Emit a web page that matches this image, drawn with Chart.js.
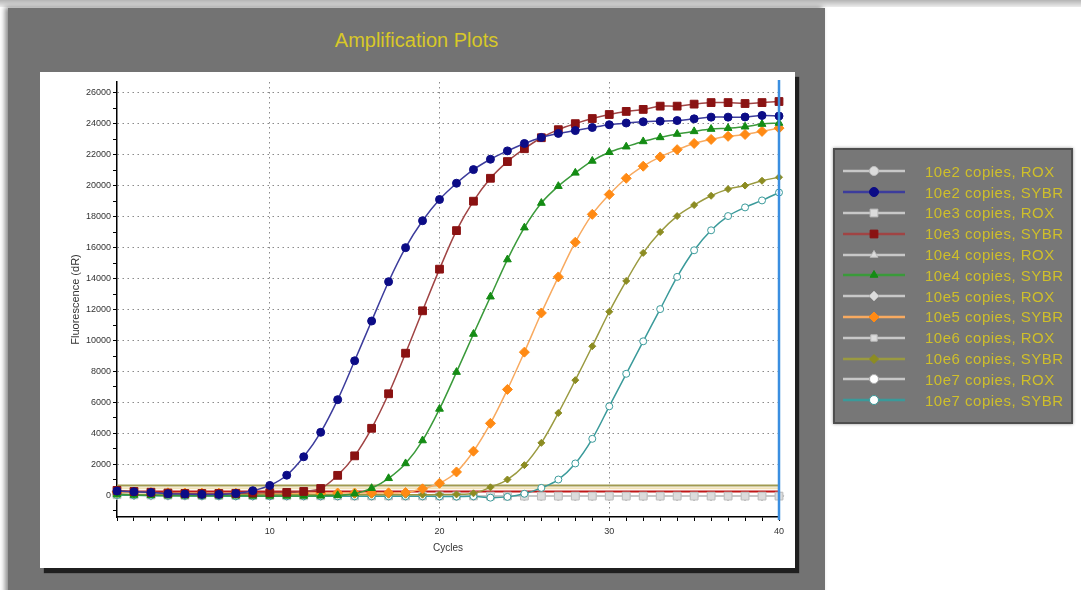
<!DOCTYPE html>
<html lang="en">
<head>
<meta charset="UTF-8">
<title>Amplification Plots</title>
<script src="https://cdn.jsdelivr.net/npm/chart.js"></script>
<style>
  body { margin: 0; width: 1081px; height: 590px; overflow: hidden; background: #fff; position: relative;
         font-family: Arial, "Liberation Sans", sans-serif; }
  .topband { position: absolute; left: 0; top: 0; width: 1081px; height: 7px; background: linear-gradient(#b4b4b4, #ececec); }
  .panel { position: absolute; left: 8px; top: 8px; width: 817px; height: 600px; background: #737373;
           box-shadow: -3px -1px 5px rgba(0,0,0,0.45); }
  .title { position: absolute; left: 0; width: 100%; top: 21px; text-align: center; color: #d8c828; font-size: 20px; }
  .plot { position: absolute; left: 32px; top: 64px; width: 755px; height: 496px; background: #fff;
          box-shadow: 4px 5px 1px #1f1f1f; }
  .legend { position: absolute; left: 833px; top: 148px; width: 240px; height: 276px; box-sizing: border-box;
            background: #777; border: 2px solid #4e4e4e; box-shadow: 0 0 3px #999; padding: 11px 0 0 8px; }
  .legend .row { display: flex; align-items: center; height: 20.8px; }
  .legend canvas { width: 62px; height: 20px; margin-right: 20px; }
  .legend span { color: #cfbf2a; font-size: 15px; letter-spacing: 0.5px; white-space: nowrap; }
</style>
</head>
<body>
<div class="topband"></div>
<div class="panel">
  <div class="title">Amplification Plots</div>
  <div class="plot"><canvas id="ampChart" width="755" height="496"></canvas></div>
</div>
<div class="legend" id="legend"></div>

<script>
// cycle numbers on the x axis
const cycles = [1, 2, 3, 4, 5, 6, 7, 8, 9, 10, 11, 12, 13, 14, 15, 16, 17, 18, 19, 20,
                21, 22, 23, 24, 25, 26, 27, 28, 29, 30, 31, 32, 33, 34, 35, 36, 37, 38, 39, 40];

// fluorescence (dR)
const rox10e2 = [60, 40, 30, 20, 10, 10, 0, 0, 0, -10, -10, -10, -20, -20, -20, -20, -20, -30, -30, -30,
                 -30, -30, -30, -30, -30, -40, -40, -40, -40, -40, -40, -40, -40, -40, -40, -40, -40, -40, -40, -40];
const sybr10e2 = [280, 230, 180, 100, 80, 60, 60, 120, 300, 640, 1300, 2490, 4070, 6180, 8690, 11260, 13800, 16000, 17740, 19110,
                  20160, 21040, 21710, 22250, 22730, 23120, 23380, 23560, 23760, 23940, 24050, 24130, 24170, 24210, 24320, 24430, 24430, 24440, 24540, 24500];
const rox10e3 = [40, 30, 20, 10, 0, 0, -10, -10, -20, -20, -30, -30, -30, -30, -40, -40, -40, -40, -40, -40,
                 -40, -40, -50, -50, -50, -50, -50, -50, -50, -50, -50, -50, -50, -50, -50, -50, -50, -50, -50, -50];
const sybr10e3 = [320, 250, 200, 150, 120, 120, 120, 130, 150, 170, 190, 250, 440, 1290, 2550, 4330, 6560, 9180, 11920, 14610,
                  17100, 19000, 20480, 21560, 22390, 23100, 23620, 24010, 24340, 24600, 24800, 24930, 25140, 25140, 25270, 25370, 25370, 25310, 25370, 25440];
const rox10e4 = [50, 30, 20, 10, 10, 0, 0, -10, -10, -10, -20, -20, -20, -20, -30, -30, -30, -30, -30, -30,
                 -30, -40, -40, -40, -40, -40, -40, -40, -40, -40, -40, -40, -40, -40, -40, -40, -40, -40, -40, -40];
const sybr10e4 = [50, 20, 0, -20, -30, -30, -30, -30, -40, -40, -40, -40, -30, 0, 100, 460, 1100, 2060, 3540, 5580,
                  7960, 10420, 12830, 15230, 17290, 18880, 19970, 20830, 21600, 22160, 22520, 22860, 23120, 23340, 23510, 23660, 23720, 23810, 23980, 24050];
const rox10e5 = [30, 20, 10, 0, 0, -10, -10, -10, -20, -20, -20, -20, -30, -30, -30, -30, -30, -30, -30, -40,
                 -40, -40, -40, -40, -40, -40, -40, -40, -40, -40, -40, -40, -40, -40, -40, -40, -40, -40, -40, -40];
const sybr10e5 = [220, 200, 180, 160, 150, 140, 140, 140, 140, 140, 140, 140, 150, 150, 150, 150, 160, 180, 420, 780,
                  1510, 2850, 4650, 6840, 9250, 11780, 14110, 16350, 18150, 19430, 20480, 21260, 21860, 22330, 22730, 22990, 23190, 23310, 23510, 23720];
const rox10e6 = [20, 10, 10, 0, 0, 0, -10, -10, -10, -20, -20, -20, -20, -20, -30, -30, -30, -30, -30, -30,
                 -30, -30, -30, -40, -40, -40, -40, -40, -40, -40, -40, -40, -40, -40, -40, -40, -40, -40, -40, -40];
const sybr10e6 = [80, 60, 50, 40, 40, 40, 40, 40, 40, 40, 40, 40, 40, 40, 40, 40, 40, 40, 40, 50,
                  60, 130, 520, 1020, 1950, 3390, 5320, 7440, 9630, 11860, 13850, 15660, 17010, 18040, 18750, 19350, 19780, 20010, 20320, 20550];
const rox10e7 = [10, 0, 0, -10, -10, -10, -20, -20, -20, -20, -30, -30, -30, -30, -30, -30, -30, -30, -40, -40,
                 -40, -40, -40, -40, -40, -40, -40, -40, -40, -40, -40, -40, -40, -40, -40, -40, -40, -40, -40, -40];
const sybr10e7 = [20, 0, -20, -30, -40, -50, -50, -60, -60, -60, -60, -60, -60, -60, -60, -60, -60, -60, -60, -70,
                  -80, -60, -150, -100, 100, 480, 1020, 2060, 3650, 5750, 7850, 9950, 12030, 14110, 15830, 17120, 18040, 18600, 19050, 19560];

// threshold lines and the cycle cursor
const thresholds = [640, 450, 240];
const cursorCycle = 40;

// axis range and tick steps
const yMin = -1400, yMax = 26700;
const yTickStep = 1000, yLabelStep = 2000, xLabelStep = 10;

const rox = { line: '#c8c8c8', mark: '#bdbdbd', fill: '#dcdcdc' };
const styles = [
  { label: '10e2 copies, ROX',  data: rox10e2,  line: rox.line, mark: rox.mark, fill: rox.fill, shape: 'circle', r: 4, order: 3 },
  { label: '10e2 copies, SYBR', data: sybr10e2, line: '#3c3c9c', mark: '#0c0c86', fill: '#0c0c86', shape: 'circle', r: 4, order: 1 },
  { label: '10e3 copies, ROX',  data: rox10e3,  line: rox.line, mark: rox.mark, fill: rox.fill, shape: 'rect', r: 5.5, order: 2 },
  { label: '10e3 copies, SYBR', data: sybr10e3, line: '#a04444', mark: '#8a1212', fill: '#8a1212', shape: 'rect', r: 5.5, order: 1 },
  { label: '10e4 copies, ROX',  data: rox10e4,  line: rox.line, mark: rox.mark, fill: rox.fill, shape: 'triangle', r: 4.5, order: 3 },
  { label: '10e4 copies, SYBR', data: sybr10e4, line: '#3a9a3a', mark: '#148c14', fill: '#148c14', shape: 'triangle', r: 4.5, order: 1 },
  { label: '10e5 copies, ROX',  data: rox10e5,  line: rox.line, mark: rox.mark, fill: rox.fill, shape: 'rectRot', r: 5, order: 3 },
  { label: '10e5 copies, SYBR', data: sybr10e5, line: '#f8aa60', mark: '#ff8a14', fill: '#ff8a14', shape: 'rectRot', r: 5, order: 1 },
  { label: '10e6 copies, ROX',  data: rox10e6,  line: rox.line, mark: rox.mark, fill: rox.fill, shape: 'rect', r: 3.5, order: 3 },
  { label: '10e6 copies, SYBR', data: sybr10e6, line: '#9a9a40', mark: '#8c8c22', fill: '#8c8c22', shape: 'rectRot', r: 3.5, order: 1 },
  { label: '10e7 copies, ROX',  data: rox10e7,  line: rox.line, mark: '#aaaaaa', fill: '#ffffff', shape: 'circle', r: 3.5, order: 3 },
  { label: '10e7 copies, SYBR', data: sybr10e7, line: '#3a9a9a', mark: '#3a9a9a', fill: '#ffffff', shape: 'circle', r: 3.5, order: 1 }
];
const thresholdColors = ['#a09a50', '#f2e2b8', '#c01818'];

const datasets = styles.map(s => ({
  label: s.label,
  data: cycles.map((c, i) => ({ x: c, y: s.data[i] })),
  borderColor: s.line,
  backgroundColor: s.fill,
  borderWidth: 1.5,
  pointStyle: s.shape,
  pointRadius: s.r,
  pointBorderColor: s.mark,
  pointBackgroundColor: s.fill,
  pointBorderWidth: 1,
  tension: 0.35,
  order: s.order,
  clip: 8
}));

thresholds.forEach((t, i) => {
  datasets.push({
    label: 'threshold',
    data: [{ x: cycles[0], y: t }, { x: cycles[cycles.length - 1], y: t }],
    borderColor: thresholdColors[i],
    borderWidth: 2,
    pointRadius: 0,
    order: 2.5,
    isThreshold: true
  });
});

// vertical blue cursor at the last cycle
const cursorPlugin = {
  id: 'cursor',
  afterDatasetsDraw(chart) {
    const x = chart.scales.x.getPixelForValue(cursorCycle);
    const { top, bottom } = chart.chartArea;
    const ctx = chart.ctx;
    ctx.save();
    ctx.strokeStyle = '#3a8ee0';
    ctx.lineWidth = 2.5;
    ctx.beginPath();
    ctx.moveTo(x, top - 2);
    ctx.lineTo(x, bottom + 3);
    ctx.stroke();
    ctx.restore();
  }
};

const ctx = document.getElementById('ampChart').getContext('2d');
const chart = new Chart(ctx, {
  type: 'line',
  data: { datasets },
  plugins: [cursorPlugin],
  options: {
    responsive: false,
    animation: false,
    layout: { padding: { top: 10, right: 16, left: 0, bottom: 0 } },
    plugins: { legend: { display: false }, tooltip: { enabled: false } },
    scales: {
      x: {
        type: 'linear',
        min: cycles[0],
        max: cycles[cycles.length - 1],
        afterBuildTicks: scale => { scale.ticks = cycles.map(c => ({ value: c })); },
        afterFit: scale => { scale.height = 51; },
        ticks: {
          autoSkip: false, maxRotation: 0, padding: 5, color: '#333',
          font: { family: 'Arial', size: 9 },
          callback: v => (v % xLabelStep === 0 ? v : '')
        },
        grid: {
          color: c => (c.tick && c.tick.value % xLabelStep === 0 && c.tick.value !== cursorCycle ? '#8a8a8a' : 'rgba(0,0,0,0)'),
          tickColor: '#000', tickLength: 4, tickBorderDash: []
        },
        border: { display: true, color: '#000', width: 1.5, dash: [1.5, 3.5] },
        title: { display: true, text: 'Cycles', color: '#333', font: { family: 'Arial', size: 10 }, padding: { top: 0, bottom: 14 } }
      },
      y: {
        min: yMin,
        max: yMax,
        afterBuildTicks: scale => {
          const t = [];
          for (let v = Math.ceil(yMin / yTickStep) * yTickStep; v <= yMax; v += yTickStep) t.push({ value: v });
          scale.ticks = t;
        },
        afterFit: scale => { scale.width = 77; },
        ticks: {
          autoSkip: false, padding: 2, color: '#333',
          font: { family: 'Arial', size: 9 },
          callback: v => (v % yLabelStep === 0 ? v : '')
        },
        grid: {
          color: c => (c.tick && c.tick.value % yLabelStep === 0 ? '#8a8a8a' : 'rgba(0,0,0,0)'),
          tickColor: '#000', tickLength: 4, tickBorderDash: []
        },
        border: { display: true, color: '#000', width: 1.5, dash: [1.5, 3.5] },
        title: { display: true, text: 'Fluorescence (dR)', color: '#333', font: { family: 'Arial', size: 11 }, padding: { top: 29, bottom: 0 } }
      }
    }
  }
});

// html legend built from the chart datasets
const legendBox = document.getElementById('legend');
chart.data.datasets.filter(d => !d.isThreshold).forEach(d => {
  const row = document.createElement('div');
  row.className = 'row';
  const sw = document.createElement('canvas');
  sw.width = 62; sw.height = 20;
  const g = sw.getContext('2d');
  g.strokeStyle = d.borderColor;
  g.lineWidth = 2.5;
  g.beginPath(); g.moveTo(0, 10); g.lineTo(62, 10); g.stroke();
  g.fillStyle = d.pointBackgroundColor;
  g.strokeStyle = d.pointBorderColor;
  g.lineWidth = 1;
  Chart.helpers.drawPoint(g, { pointStyle: d.pointStyle, radius: Math.max(d.pointRadius, 4.5), rotation: 0, borderWidth: 1 }, 31, 10);
  const label = document.createElement('span');
  label.textContent = d.label;
  row.appendChild(sw);
  row.appendChild(label);
  legendBox.appendChild(row);
});
</script>
</body>
</html>
